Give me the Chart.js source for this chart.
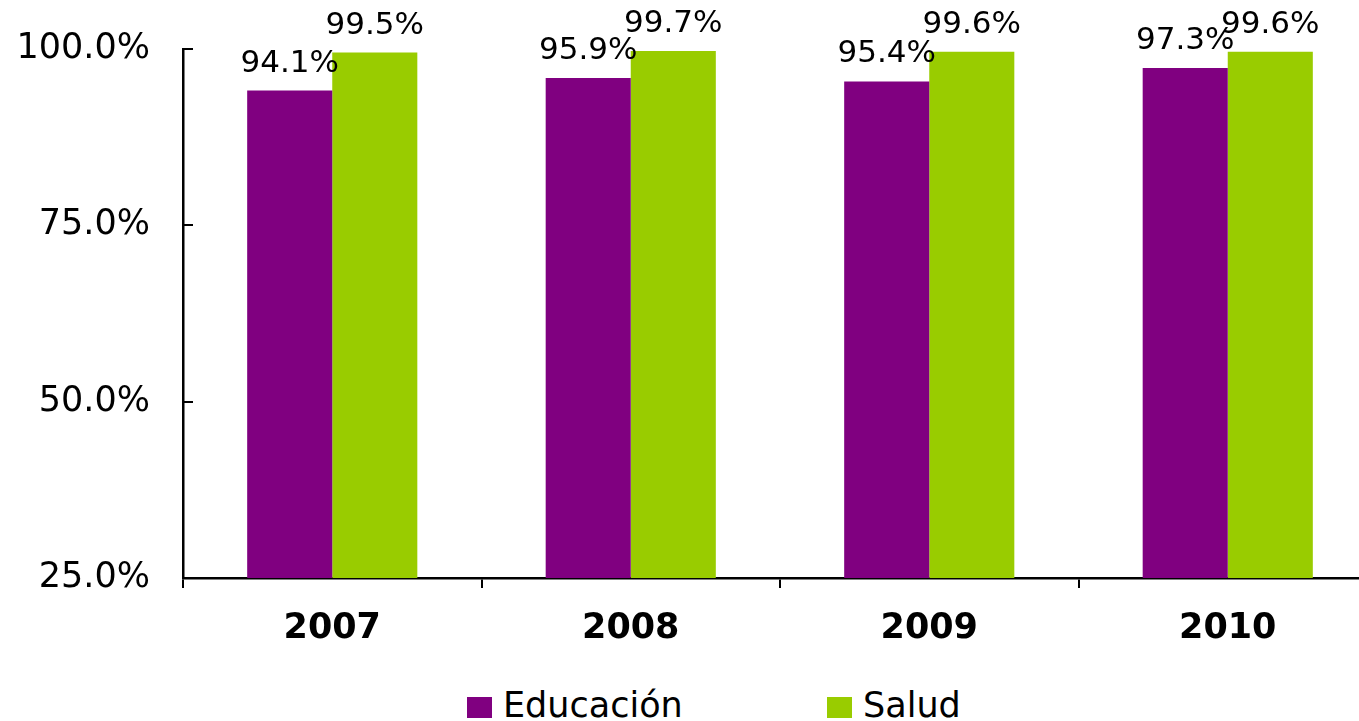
<!DOCTYPE html>
<html>
<head>
<meta charset="utf-8">
<script src="https://cdn.jsdelivr.net/npm/chart.js@4.4.1/dist/chart.umd.min.js"></script>
<style>
  html, body { margin: 0; padding: 0; background: #fff; overflow: hidden; }
  #wrap { position: relative; width: 1359px; height: 721px; overflow: hidden; background: #fff; }
  #c { position: absolute; left: 0; top: 0; }
  .lg { position: absolute; top: 685px; height: 40px; line-height: 40px; font-family: "DejaVu Sans", Verdana, sans-serif; font-size: 35px; color: #000; white-space: nowrap; }
  .lg i { position: absolute; left: 0; top: 12px; width: 25px; height: 21px; }
  .lg span { position: absolute; left: 36px; top: 0; }
</style>
</head>
<body>
<div id="wrap">
  <canvas id="c" width="1380" height="660"></canvas>
  <div id="legend"></div>
</div>
<script>
// ---- data ----
const categories = ['2007', '2008', '2009', '2010'];
const seriesNames = ['Educación', 'Salud'];
const educacion = [94.1, 95.9, 95.4, 97.3];
const salud = [99.5, 99.7, 99.6, 99.6];
const yTickValues = [25, 50, 75, 100];

// ---- styles ----
const seriesColors = ['#800080', '#99CC00'];
const FONT = '"DejaVu Sans", Verdana, sans-serif';
const legendLefts = [467, 827];

const fmt = v => v.toFixed(1) + '%';

const valueLabels = {
  id: 'valueLabels',
  afterDatasetsDraw(chart) {
    const ctx = chart.ctx;
    ctx.save();
    ctx.font = '31px ' + FONT;
    ctx.fillStyle = '#000';
    ctx.textAlign = 'center';
    ctx.textBaseline = 'middle';
    chart.data.datasets.forEach((ds, i) => {
      chart.getDatasetMeta(i).data.forEach((bar, j) => {
        ctx.fillText(fmt(ds.data[j]), bar.x, bar.y - 27);
      });
    });
    ctx.restore();
  }
};

const chart = new Chart(document.getElementById('c'), {
  type: 'bar',
  data: {
    labels: categories,
    datasets: [
      { label: seriesNames[0], data: educacion, backgroundColor: seriesColors[0], borderWidth: 0 },
      { label: seriesNames[1], data: salud, backgroundColor: seriesColors[1], borderWidth: 0 }
    ]
  },
  options: {
    responsive: false,
    animation: false,
    devicePixelRatio: 1,
    layout: { padding: { top: 49, right: 3, left: 0, bottom: 0 } },
    datasets: { bar: { categoryPercentage: 0.57, barPercentage: 1.0 } },
    plugins: {
      legend: { display: false },
      tooltip: { enabled: false }
    },
    scales: {
      x: {
        grid: { display: true, drawOnChartArea: false, drawTicks: true, tickLength: 10, color: '#000', lineWidth: 2, offset: true },
        border: { display: true, color: '#000', width: 2.5 },
        ticks: { color: '#000', font: { family: FONT, size: 35, weight: 'bold' }, padding: 20, maxRotation: 0, autoSkip: false },
        afterFit(s) { s.height = 82; }
      },
      y: {
        min: 25,
        max: 100,
        grid: { display: true, drawOnChartArea: false, drawTicks: true, tickLength: -10, color: '#000', lineWidth: 2 },
        border: { display: true, color: '#000', width: 2.5 },
        ticks: { color: '#000', font: { family: FONT, size: 35 }, padding: 43, callback: v => fmt(v) },
        afterBuildTicks(s) { s.ticks = yTickValues.map(v => ({ value: v })); },
        afterFit(s) { s.width = 183; s.paddingTop = 0; s.paddingBottom = 0; }
      }
    }
  },
  plugins: [valueLabels]
});

// HTML legend built from the chart's datasets
const legendEl = document.getElementById('legend');
chart.data.datasets.forEach((ds, i) => {
  const item = document.createElement('div');
  item.className = 'lg';
  item.style.left = legendLefts[i] + 'px';
  const sw = document.createElement('i');
  sw.style.background = ds.backgroundColor;
  const tx = document.createElement('span');
  tx.textContent = ds.label;
  item.appendChild(sw);
  item.appendChild(tx);
  legendEl.appendChild(item);
});
</script>
</body>
</html>
